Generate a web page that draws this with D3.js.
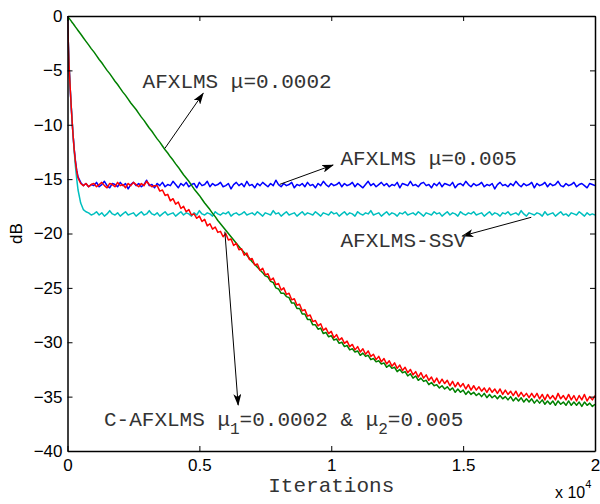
<!DOCTYPE html>
<html lang="en">
<head>
    <meta charset="UTF-8">
    <title>AFXLMS learning curves</title>
    <script src="https://cdn.jsdelivr.net/npm/d3@7"></script>
    <style>
        body { margin: 0; background: #fff; }
        .tick text { font-family: "Liberation Sans", Arial, sans-serif; font-size: 17px; fill: #000; }
        .note { font-family: "Liberation Mono", "Courier New", monospace; font-size: 21px; fill: #333; }
    </style>
</head>
<body>
    <div id="graph"></div>
    <script>
        // iteration grid: dense at the start, then every 100 iterations
        const itersStart = [0, 25, 50, 100, 150, 200, 250, 300, 350, 400, 500, 600, 700, 800, 900];
        const iters = itersStart.concat(d3.range(1000, 20001, 100));

        // AFXLMS mu=0.005 (dB)
        const blue = [0, -2.0, -4.0, -6.6, -8.7, -10.6, -12.1, -13.3, -14.2, -14.8, -15.3, -15.6, -15.4, -15.7, -15.5,
            -15.6, -15.3, -15.7, -15.5, -15.2, -15.6, -15.8, -15.4, -15.5, -15.7, -15.3, -15.6,
            -15.4, -15.9, -15.5, -15.3, -15.6, -15.4, -15.7, -15.5, -15.1, -15.6, -15.5, -15.8,
            -15.4, -15.6, -15.3, -15.7, -15.5, -15.6, -15.2, -15.5, -15.8, -15.4, -15.6, -15.3,
            -15.7, -15.5, -15.4, -15.8, -15.3, -15.6, -15.5, -15.2, -15.7, -15.4, -15.6, -15.5,
            -15.3, -15.7, -15.6, -15.4, -15.9, -15.5, -15.3, -15.6, -15.4, -15.7, -15.2, -15.6,
            -15.5, -15.8, -15.4, -15.6, -15.3, -15.5, -15.7, -15.4, -15.6, -15.1, -15.5, -15.7,
            -15.4, -15.6, -15.5, -15.3, -15.8, -15.5, -15.6, -15.4, -15.7, -15.3, -15.6, -15.5,
            -15.8, -15.4, -15.6, -15.2, -15.5, -15.7, -15.4, -15.6, -15.5, -15.3, -15.7, -15.4,
            -15.6, -15.5, -15.3, -15.7, -15.4, -15.6, -15.8, -15.5, -15.2, -15.6, -15.4, -15.7,
            -15.5, -15.3, -15.6, -15.4, -15.7, -15.5, -15.6, -15.3, -15.8, -15.4, -15.5, -15.6,
            -15.2, -15.6, -15.5, -15.7, -15.4, -15.3, -15.6, -15.5, -15.8, -15.4, -15.6, -15.3,
            -15.7, -15.4, -15.5, -15.6, -15.3, -15.8, -15.5, -15.4, -15.6, -15.2, -15.5, -15.7,
            -15.4, -15.6, -15.5, -15.3, -15.7, -15.5, -15.6, -15.4, -15.9, -15.5, -15.3, -15.6,
            -15.5, -15.7, -15.4, -15.6, -15.2, -15.5, -15.7, -15.4, -15.6, -15.5, -15.3, -15.8,
            -15.4, -15.6, -15.5, -15.3, -15.7, -15.4, -15.6, -15.5, -15.2, -15.6, -15.7, -15.4,
            -15.6, -15.5, -15.3, -15.7, -15.5, -15.4, -15.6, -15.8, -15.4, -15.5, -15.6];

        // AFXLMS-SSV (dB)
        const cyan = [0, -2.0, -4.0, -6.6, -8.6, -10.5, -12.3, -13.8, -15.0, -16.0, -17.2, -17.8, -18.0, -18.1, -18.3,
            -18.2, -18.0, -18.3, -18.1, -18.4, -18.2, -17.9, -18.2, -18.3, -18.1, -18.4, -18.2,
            -18.0, -18.3, -18.2, -18.1, -18.4, -18.2, -18.0, -18.3, -18.2, -17.9, -18.2, -18.3,
            -18.1, -18.4, -18.2, -18.0, -18.3, -18.2, -18.1, -18.4, -18.2, -18.0, -18.3, -18.1,
            -18.2, -18.4, -18.1, -18.3, -17.9, -18.2, -18.3, -18.1, -18.2, -18.4, -18.0, -18.2,
            -18.3, -18.1, -18.2, -18.0, -18.4, -18.2, -18.1, -18.3, -18.2, -18.0, -18.3, -18.2,
            -18.1, -18.3, -18.0, -18.2, -18.4, -18.1, -18.2, -18.3, -17.9, -18.2, -18.1, -18.4,
            -18.2, -18.0, -18.3, -18.2, -18.1, -18.4, -18.2, -18.0, -18.3, -18.1, -18.2, -18.3,
            -18.0, -18.2, -18.4, -18.1, -18.2, -18.3, -18.0, -18.2, -18.1, -18.4, -18.2, -18.0,
            -18.3, -18.1, -18.2, -18.4, -18.0, -18.2, -18.3, -18.1, -18.2, -17.9, -18.3, -18.2,
            -18.1, -18.4, -18.2, -18.0, -18.3, -18.1, -18.2, -18.4, -18.1, -18.2, -18.0, -18.3,
            -18.2, -18.1, -18.3, -18.0, -18.2, -18.4, -18.1, -18.2, -18.3, -18.0, -18.2, -18.1,
            -18.4, -18.2, -18.0, -18.3, -18.1, -18.2, -18.4, -18.0, -18.2, -18.3, -18.1, -18.2,
            -18.0, -18.3, -18.2, -18.1, -18.4, -18.2, -18.0, -18.3, -18.1, -18.2, -18.4, -18.1,
            -18.2, -18.0, -18.3, -18.2, -18.1, -18.3, -17.9, -18.2, -18.4, -18.1, -18.2, -18.3,
            -18.1, -18.2, -18.4, -18.0, -18.3, -18.2, -18.1, -18.4, -18.2, -18.0, -18.3, -18.2,
            -18.4, -18.1, -18.2, -18.3, -18.0, -18.2, -18.4, -18.1, -18.3, -18.2, -18.3];

        // AFXLMS mu=0.0002 (dB)
        const green = [0, -0.08, -0.17, -0.33, -0.5, -0.66, -0.83, -1.0, -1.16, -1.33, -1.66, -2.0, -2.33, -2.66, -3.0,
            -3.3, -3.65, -4.0, -4.3, -4.65, -5.0, -5.3, -5.65, -6.0, -6.3, -6.65, -7.0,
            -7.3, -7.65, -8.0, -8.3, -8.6, -8.95, -9.3, -9.6, -9.95, -10.3, -10.6, -10.95,
            -11.3, -11.6, -11.95, -12.3, -12.6, -12.95, -13.25, -13.6, -13.9, -14.25, -14.6, -14.9,
            -15.2, -15.55, -15.9, -16.2, -16.5, -16.85, -17.2, -17.5, -17.8, -18.15, -18.45, -18.8,
            -19.1, -19.4, -19.7, -20.0, -20.3, -20.6, -20.9, -21.2, -21.5, -21.75, -22.0, -22.3,
            -22.6, -22.85, -23.1, -23.35, -23.6, -23.9, -24.0, -24.4, -24.5, -25.0, -25.1, -25.5,
            -25.5, -25.8, -25.9, -26.4, -26.4, -26.9, -26.9, -27.4, -27.4, -27.9, -27.9, -28.4,
            -28.4, -28.8, -28.7, -29.2, -29.1, -29.5, -29.4, -29.8, -29.7, -30.1, -30.0, -30.4,
            -30.3, -30.7, -30.6, -30.9, -30.8, -31.2, -31.0, -31.3, -31.2, -31.6, -31.5, -31.8,
            -31.7, -32.0, -31.9, -32.3, -32.1, -32.4, -32.3, -32.7, -32.5, -32.8, -32.7, -33.1,
            -32.9, -33.3, -33.1, -33.5, -33.3, -33.6, -33.5, -33.9, -33.7, -34.0, -33.9, -34.2,
            -34.0, -34.3, -34.1, -34.4, -34.2, -34.6, -34.3, -34.6, -34.4, -34.8, -34.5, -34.8,
            -34.6, -34.9, -34.7, -35.0, -34.7, -35.1, -34.8, -35.1, -34.9, -35.2, -34.9, -35.2,
            -35.0, -35.3, -35.0, -35.4, -35.1, -35.4, -35.1, -35.5, -35.2, -35.5, -35.2, -35.6,
            -35.3, -35.6, -35.3, -35.7, -35.4, -35.7, -35.4, -35.8, -35.4, -35.7, -35.5, -35.8,
            -35.4, -35.8, -35.5, -35.8, -35.5, -35.9, -35.5, -35.8, -35.6, -35.9, -35.7];

        // C-AFXLMS mu1=0.0002 & mu2=0.005 (dB)
        const red = [0, -2.0, -4.0, -6.5, -8.7, -10.6, -12.2, -13.4, -14.3, -14.9, -15.4, -15.6, -15.4, -15.7, -15.5,
            -15.4, -15.7, -15.5, -15.3, -15.6, -15.8, -15.4, -15.5, -15.7, -15.3, -15.6, -15.5,
            -15.8, -15.4, -15.6, -15.3, -15.5, -15.7, -15.4, -15.6, -15.2, -15.5, -15.7, -15.6,
            -15.6, -16.1, -16.0, -16.5, -16.4, -17.0, -16.8, -17.3, -17.1, -17.7, -17.5, -18.0,
            -17.8, -18.3, -18.2, -18.6, -18.4, -18.9, -18.7, -19.3, -19.1, -19.6, -19.4, -19.9,
            -19.8, -20.3, -20.0, -20.6, -20.5, -21.1, -20.9, -21.5, -21.4, -22.0, -21.8, -22.4,
            -22.3, -22.9, -22.8, -23.4, -23.2, -23.8, -23.7, -24.3, -24.1, -24.7, -24.6, -25.2,
            -25.0, -25.6, -25.5, -26.1, -26.0, -26.6, -26.5, -27.1, -27.0, -27.6, -27.5, -28.1,
            -28.0, -28.5, -28.3, -28.9, -28.7, -29.2, -29.0, -29.6, -29.3, -29.8, -29.6, -30.1,
            -29.9, -30.4, -30.2, -30.7, -30.4, -30.9, -30.6, -31.1, -30.8, -31.3, -31.1, -31.6,
            -31.3, -31.8, -31.5, -32.0, -31.7, -32.2, -31.9, -32.4, -32.1, -32.6, -32.3, -32.8,
            -32.5, -33.0, -32.7, -33.2, -32.8, -33.3, -33.0, -33.5, -33.2, -33.7, -33.3, -33.8,
            -33.4, -33.8, -33.5, -34.0, -33.6, -34.1, -33.7, -34.1, -33.8, -34.3, -33.9, -34.4,
            -34.0, -34.4, -34.1, -34.5, -34.2, -34.6, -34.2, -34.6, -34.3, -34.7, -34.3, -34.8,
            -34.4, -34.8, -34.5, -34.9, -34.5, -35.0, -34.6, -35.0, -34.7, -35.1, -34.7, -35.1,
            -34.7, -35.2, -34.8, -35.3, -34.8, -35.2, -34.9, -35.3, -34.7, -35.2, -34.9, -35.3,
            -34.8, -35.3, -34.9, -35.4, -34.9, -35.3, -34.8, -35.4, -35.0, -35.3, -34.9];

        const xTicks = [0, 5000, 10000, 15000, 20000];
        const xTickLabels = ["0", "0.5", "1", "1.5", "2"];
        const yTicks = [0, -5, -10, -15, -20, -25, -30, -35, -40];
        const yTickLabels = ["0", "\u22125", "\u221210", "\u221215", "\u221220", "\u221225", "\u221230", "\u221235", "\u221240"];

        const W = 600, H = 504;
        const svg = d3.select("#graph").append("svg")
            .attr("width", W).attr("height", H);

        const x = d3.scaleLinear().domain([0, 20000]).range([67.5, 595]);
        const y = d3.scaleLinear().domain([-40, 0]).range([451, 16]);

        svg.append("clipPath").attr("id", "plot")
            .append("rect")
            .attr("x", x(0)).attr("y", y(0))
            .attr("width", x(20000) - x(0)).attr("height", y(-40) - y(0));

        const line = d3.line()
            .x((d, i) => x(iters[i]))
            .y(d => y(d));

        const series = [
            { values: blue, color: "#0000ff" },
            { values: cyan, color: "#00bfbf" },
            { values: green, color: "#008000" },
            { values: red, color: "#ff0000" }
        ];

        svg.append("g").attr("clip-path", "url(#plot)")
            .selectAll("path")
            .data(series)
            .join("path")
            .attr("fill", "none")
            .attr("stroke", d => d.color)
            .attr("stroke-width", 1.5)
            .attr("stroke-linejoin", "round")
            .attr("d", d => line(d.values));

        // axes, ticks pointing inward on all four sides
        const fmtX = (d, i) => xTickLabels[i];
        const fmtY = (d, i) => yTickLabels[i];

        svg.append("g")
            .attr("transform", `translate(0,${y(-40)})`)
            .call(d3.axisBottom(x).tickValues(xTicks).tickFormat(fmtX).tickSizeInner(-5).tickSizeOuter(0).tickPadding(8));
        svg.append("g")
            .attr("transform", `translate(0,${y(0)})`)
            .call(d3.axisTop(x).tickValues(xTicks).tickFormat("").tickSizeInner(-5).tickSizeOuter(0));
        svg.append("g")
            .attr("transform", `translate(${x(0)},0)`)
            .call(d3.axisLeft(y).tickValues(yTicks).tickFormat(fmtY).tickSizeInner(-5).tickSizeOuter(0).tickPadding(5));
        svg.append("g")
            .attr("transform", `translate(${x(20000)},0)`)
            .call(d3.axisRight(y).tickValues(yTicks).tickFormat("").tickSizeInner(-5).tickSizeOuter(0));

        svg.selectAll(".domain").attr("stroke", "#000").attr("stroke-width", 1.5);
        svg.selectAll(".tick line").attr("stroke", "#000");
        svg.selectAll(".tick text").attr("font-family", null).attr("font-size", null);

        // axis titles
        svg.append("text")
            .attr("class", "note")
            .attr("x", (x(0) + x(20000)) / 2)
            .attr("y", 492)
            .attr("text-anchor", "middle")
            .text("Iterations");

        svg.append("text")
            .attr("transform", `translate(22,${(y(0) + y(-40)) / 2}) rotate(-90)`)
            .attr("text-anchor", "middle")
            .attr("font-family", "Liberation Sans, Arial, sans-serif")
            .attr("font-size", 17)
            .text("dB");

        const expo = svg.append("text")
            .attr("x", 555).attr("y", 498)
            .attr("font-family", "Liberation Sans, Arial, sans-serif")
            .attr("font-size", 16)
            .text("x 10");
        expo.append("tspan").attr("dy", -10).attr("font-size", 11).text("4");

        // annotation arrows (data coordinates)
        svg.append("defs").append("marker")
            .attr("id", "head")
            .attr("viewBox", "0 0 12 8")
            .attr("refX", 11).attr("refY", 4)
            .attr("markerWidth", 12).attr("markerHeight", 8)
            .attr("markerUnits", "userSpaceOnUse")
            .attr("orient", "auto")
            .append("path")
            .attr("d", "M0,0 L12,4 L0,8 L3,4 Z")
            .attr("fill", "#000");

        const arrows = [
            { from: [3693, -12.17], to: [5144, -7.11] },
            { from: [8049, -15.48], to: [10068, -13.7] },
            { from: [17583, -18.51], to: [14970, -20.23] },
            { from: [5966, -19.83], to: [6470, -35.77] }
        ];

        svg.append("g").selectAll("line")
            .data(arrows)
            .join("line")
            .attr("x1", d => x(d.from[0])).attr("y1", d => y(d.from[1]))
            .attr("x2", d => x(d.to[0])).attr("y2", d => y(d.to[1]))
            .attr("stroke", "#000")
            .attr("stroke-width", 1)
            .attr("marker-end", "url(#head)");

        const notes = [
            { at: [2848, -6.62], parts: [["AFXLMS \u03bc=0.0002"]] },
            { at: [10348, -13.7], parts: [["AFXLMS \u03bc=0.005"]] },
            { at: [10348, -21.24], parts: [["AFXLMS-SSV"]] },
            { at: [1383, -37.7], parts: [["C-AFXLMS \u03bc"], ["1", "sub"], ["=0.0002 & \u03bc"], ["2", "sub"], ["=0.005"]] }
        ];

        notes.forEach(n => {
            const t = svg.append("text")
                .attr("class", "note")
                .attr("x", x(n.at[0]))
                .attr("y", y(n.at[1]))
                .attr("xml:space", "preserve");
            let down = false;
            n.parts.forEach(p => {
                const sub = p[1] === "sub";
                const s = t.append("tspan").text(p[0]);
                if (sub) { s.attr("dy", 8).attr("font-size", 16); down = true; }
                else if (down) { s.attr("dy", -8); down = false; }
            });
        });
    </script>
</body>
</html>
